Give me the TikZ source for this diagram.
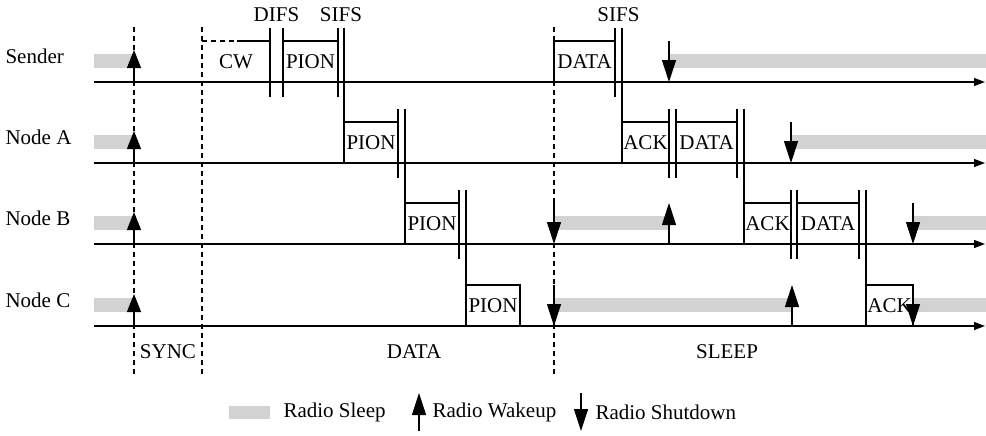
\documentclass[tikz,border=0pt]{standalone}
\usepackage{fontspec}
\setmainfont{Liberation Serif}
\usetikzlibrary{arrows.meta}
\newcommand\mybar[3]{\fill[gray!35] (#1,#3-28) rectangle (#2,#3-14);}
\newcommand\mybox[5]{\draw (#1,#3-41) rectangle (#2,#3); \node[lbl] (#5) at ({(#1+#2)/2},#3-20) {#4};}
\newcommand\mymark[2]{\draw (#1,#2-54) -- (#1,#2+15);}
\newcommand\myup[3]{\draw[wake] (#1,#2) -- (#1,#2-#3);}
\newcommand\mydown[2]{\draw[wake] (#1,#2-41) -- (#1,#2);}
\begin{document}
\begin{tikzpicture}[x=0.5pt,y=-0.5pt,line width=0.55pt,
  lbl/.style={inner sep=0pt,font=\fontsize{10.5}{12}\selectfont},
  ax/.style={-{Triangle[length=5.5pt,width=4pt]}},
  wake/.style={-{Triangle[length=11pt,width=7pt]}},
  dsh/.style={dash pattern=on 2.5pt off 2pt}]
\useasboundingbox (0,0) rectangle (986,435);
% sleep bars
\foreach \yy in {82,163,244,326} {\mybar{94}{134}{\yy}}
\mybar{669}{986}{82}
\mybar{791}{986}{163}
\mybar{554}{669}{244}
\mybar{913}{986}{244}
\mybar{554}{792}{326}
\mybar{913}{986}{326}
% phase separators
\draw[dsh] (134,27) -- (134,377);
\draw[dsh] (202,27) -- (202,377);
\draw[dsh] (554,27) -- (554,377);
% axes
\foreach \yy in {82,163,244,326} {\draw[ax] (94,\yy) -- (985,\yy);}
% row labels
\node[lbl,anchor=west] (sender) at (5,56) {Sender};
\node[lbl,anchor=west] (nodea) at (5,137) {Node A};
\node[lbl,anchor=west] (nodeb) at (5,218) {Node B};
\node[lbl,anchor=west] (nodec) at (5,300) {Node C};
% sync wakeups
\foreach \yy in {82,163,244,326} {\draw[-{Triangle[length=9pt,width=7pt]}] (134,\yy) -- (134,\yy-32);}
% Sender
\draw[dsh] (202,41) -- (237,41);
\draw (237,41) -- (270,41);
\node[lbl] (cw) at (236,62) {CW};
\draw[line width=1pt] (270,28) -- (270,97);
\mymark{283}{82}
\mybox{283}{338}{82}{PION}{spion}
\mymark{338}{82}
\draw (344,28) -- (344,163);
\mybox{554}{615}{82}{DATA}{sdata}
\mymark{615}{82}
\draw (622,28) -- (622,163);
\mydown{669}{82}
\node[lbl] (difs) at (276.5,15) {DIFS};
\node[lbl] (sifs1) at (341,15) {SIFS};
\node[lbl] (sifs2) at (618.5,15) {SIFS};
% Node A
\mybox{344}{398}{163}{PION}{apion}
\mymark{398}{163}
\draw (405,109) -- (405,244);
\mybox{622}{669}{163}{ACK}{aack}
\mymark{669}{163}
\mymark{676}{163}
\mybox{676}{737}{163}{DATA}{adata}
\mymark{737}{163}
\draw (744,109) -- (744,244);
\mydown{791}{163}
% Node B
\mybox{405}{459}{244}{PION}{bpion}
\mymark{459}{244}
\draw (466,190) -- (466,326);
\mydown{554}{244}
\myup{669}{244}{41}
\mybox{744}{791}{244}{ACK}{back}
\mymark{791}{244}
\mymark{797}{244}
\mybox{797}{859}{244}{DATA}{bdata}
\mymark{859}{244}
\draw (866,190) -- (866,326);
\mydown{913}{244}
% Node C
\mybox{466}{520}{326}{PION}{cpion}
\mydown{554}{326}
\myup{792}{326}{41}
\mybox{866}{913}{326}{ACK}{cack}
\mydown{913}{326}
% phase labels
\node[lbl] (sync) at (168,352) {SYNC};
\node[lbl] (dataph) at (414,352) {DATA};
\node[lbl] (sleepph) at (727,352) {SLEEP};
% legend
\fill[gray!35] (229,406) rectangle (270,419);
\node[lbl,anchor=west] (lsleep) at (283,412) {Radio Sleep};
\draw[wake] (419,431) -- (419,393);
\node[lbl,anchor=west] (lwake) at (432,412) {Radio Wakeup};
\draw[wake] (581,393) -- (581,431);
\node[lbl,anchor=west] (lshut) at (595,412) {Radio Shutdown};
\end{tikzpicture}
\end{document}
